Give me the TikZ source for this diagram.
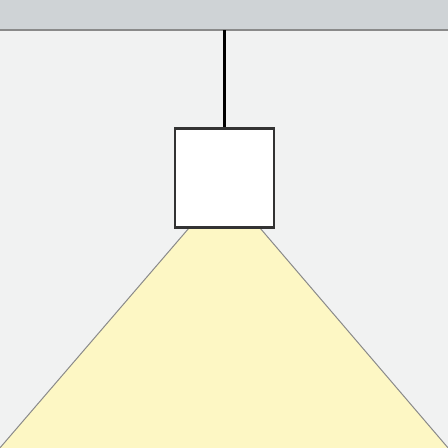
\documentclass[tikz,border=0pt]{standalone}
\usetikzlibrary{positioning}
\definecolor{wallgray}{HTML}{F1F2F2}
\definecolor{ceilgray}{HTML}{CFD3D6}
\definecolor{beamyellow}{HTML}{FDF7C4}
\definecolor{edgegray}{HTML}{8A8A8A}
\definecolor{boxline}{HTML}{333333}
\begin{document}
\begin{tikzpicture}[x=1pt,y=-1pt]
	\tikzset{lampbox/.style={draw=boxline, line width=2.5pt, fill=white, minimum width=99pt, minimum height=99pt, inner sep=0pt}}
	\useasboundingbox (0,0) rectangle (448,448);
	\fill[wallgray] (0,0) rectangle (448,448);
	\fill[ceilgray] (0,0) rectangle (448,30);
	\draw[edgegray, line width=1.3pt] (0,30)--(448,30);
	\coordinate (hook) at (224.5,30);

	% light beam
	\coordinate (bl) at (189,228);
	\coordinate (br) at (260,228);
	\coordinate (fl) at (-1,449);
	\coordinate (fr) at (449,449);
	\fill[beamyellow] (bl)--(fl)--(fr)--(br)--cycle;
	\draw[edgegray, line width=1pt] (bl)--(fl);
	\draw[edgegray, line width=1pt] (br)--(fr);

	\node[lampbox] (lamp) at (224.5,178) {};
	\draw[black, line width=2.2pt] (hook)--(lamp.north);
\end{tikzpicture}
\end{document}
